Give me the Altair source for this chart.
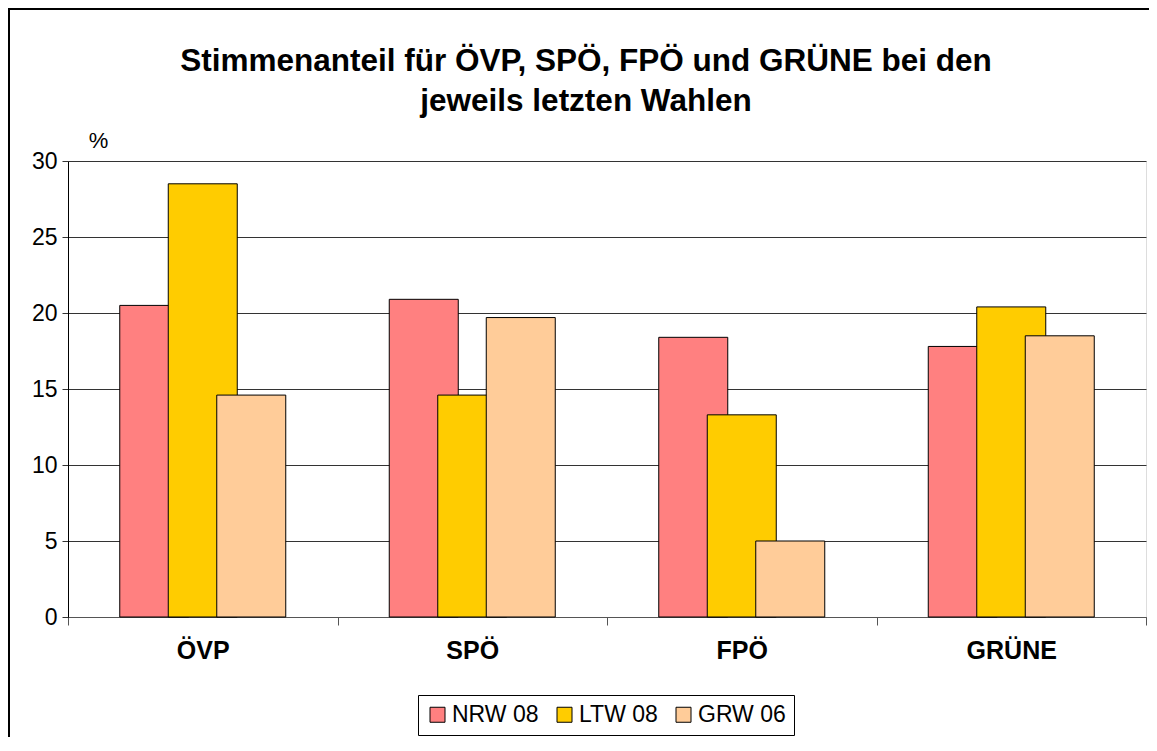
import altair as alt
import pandas as pd

parties = ["ÖVP", "SPÖ", "FPÖ", "GRÜNE"]
series = ["NRW 08", "LTW 08", "GRW 06"]
nrw08 = [20.5, 20.9, 18.4, 17.8]
ltw08 = [28.5, 14.6, 13.3, 20.4]
grw06 = [14.6, 19.7, 5.0, 18.5]
colors = ["#FF8080", "#FFCC00", "#FFCC99"]
title_lines = ["Stimmenanteil für ÖVP, SPÖ, FPÖ und GRÜNE bei den", "jeweils letzten Wahlen"]

rows = []
for s, vals in zip(series, [nrw08, ltw08, grw06]):
    for p, v in zip(parties, vals):
        rows.append({"Partei": p, "Wahl": s, "Wert": v})
df = pd.DataFrame(rows)

FONT = "Liberation Sans"

bars = alt.Chart(df).mark_bar(width=69, stroke="#000000", strokeWidth=1).encode(
    x=alt.X("Partei:N", sort=parties,
            scale=alt.Scale(paddingInner=0, paddingOuter=0),
            axis=alt.Axis(title=None, labelAngle=0, labelFont=FONT, labelFontSize=25,
                          labelFontWeight="bold", labelColor="#000000",
                          tickBand="extent", tickSize=8, tickColor="#555555",
                          domainColor="#555555", labelPadding=13, grid=False)),
    xOffset=alt.XOffset("Wahl:N", sort=series,
                        scale=alt.Scale(range=[62, 207.5], paddingInner=0, paddingOuter=0)),
    y=alt.Y("Wert:Q", scale=alt.Scale(domain=[0, 30]),
            axis=alt.Axis(values=[0, 5, 10, 15, 20, 25, 30], title="%",
                          titleAngle=0, titleX=30, titleY=-21, titleFont=FONT,
                          titleFontSize=22, titleFontWeight="normal",
                          titleAlign="center", titleBaseline="middle",
                          labelFont=FONT, labelFontSize=23, labelColor="#000000",
                          tickSize=6, tickColor="#333333", domainColor="#000000",
                          gridColor="#333333", gridWidth=1, labelPadding=5)),
    color=alt.Color("Wahl:N", sort=series,
                    scale=alt.Scale(domain=series, range=colors),
                    legend=alt.Legend(title=None, orient="none", direction="horizontal",
                                      legendX=350, legendY=534,
                                      labelFont=FONT, labelFontSize=23,
                                      labelColor="#000000",
                                      symbolType="square", symbolSize=225,
                                      symbolStrokeColor="#000000", symbolStrokeWidth=1,
                                      strokeColor="#000000", padding=8,
                                      columnPadding=14, labelOffset=3)),
    order=alt.Order("o:Q"),
).transform_calculate(o="indexof(['NRW 08','LTW 08','GRW 06'], datum.Wahl)")

title_df = pd.DataFrame({"line": title_lines, "i": [0, 1]})
title1 = alt.Chart(title_df).transform_filter("datum.i == 0").mark_text(
    font=FONT, fontSize=31.5, fontWeight="bold", color="#000000",
    align="center", baseline="middle").encode(
    text="line:N", x=alt.value(518), y=alt.value(-99))
title2 = alt.Chart(title_df).transform_filter("datum.i == 1").mark_text(
    font=FONT, fontSize=31.5, fontWeight="bold", color="#000000",
    align="center", baseline="middle").encode(
    text="line:N", x=alt.value(518), y=alt.value(-59))

frame_v = alt.Chart(df).mark_rule(color="#000000", strokeWidth=1.2).encode(
    x=alt.value(-59), y=alt.value(-153), y2=alt.value(700))
frame_h = alt.Chart(df).mark_rule(color="#000000", strokeWidth=1.2).encode(
    x=alt.value(-59), x2=alt.value(1200), y=alt.value(-152))

chart = alt.layer(bars, title1, title2, frame_v, frame_h).properties(
    width=1078, height=456,
    autosize=alt.AutoSizeParams(type="none"),
    padding={"left": 60, "top": 153, "right": 3, "bottom": 120},
).configure_view(fill="#FFFFCC", stroke="#888888", strokeWidth=1.5
).configure(background="#FFFFFF")

chart.save("out.html", embed_options={"renderer": "svg", "actions": False})
